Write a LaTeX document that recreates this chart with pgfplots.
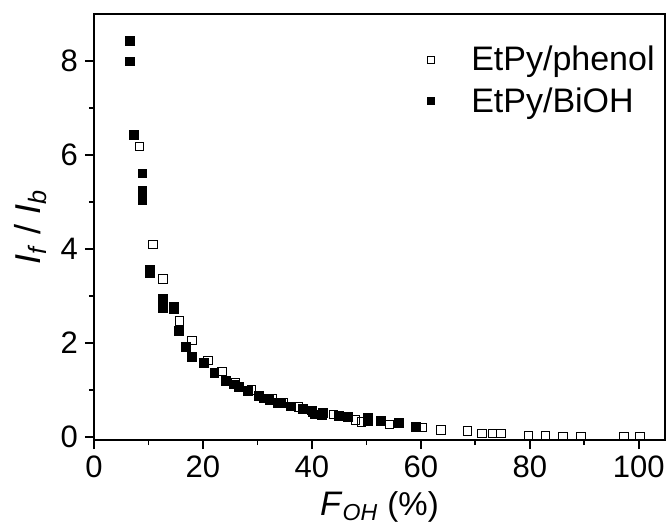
\documentclass[border=0pt]{standalone}
\usepackage{pgfplots}
\pgfplotsset{compat=1.18}
\usepackage{fontspec}
\setmainfont{Liberation Sans}
\pgfplotstableread{
x y
8.4 6.18
10.8 4.09
12.7 3.36
15.7 2.47
18.0 2.05
20.9 1.63
23.5 1.39
26.0 1.15
28.9 1.00
32.8 0.82
34.8 0.74
37.5 0.64
40.0 0.56
44.0 0.48
48.0 0.36
49.1 0.32
54.2 0.26
60.2 0.20
63.7 0.15
68.5 0.13
71.2 0.08
73.1 0.08
74.7 0.07
79.7 0.03
82.9 0.03
86.1 0.01
89.4 0.01
97.3 0.01
100.2 0.01
}\phenol
\pgfplotstableread{
x y
6.6 8.43
6.6 7.99
7.3 6.42
8.9 5.61
8.9 5.24
8.9 5.04
10.2 3.56
10.2 3.48
12.7 2.95
12.7 2.74
14.7 2.78
14.7 2.72
15.6 2.26
16.9 1.92
18.0 1.70
20.2 1.57
22.1 1.37
24.2 1.19
25.7 1.12
26.6 1.07
28.2 0.98
30.3 0.88
31.2 0.82
32.2 0.79
33.8 0.73
34.3 0.72
36.1 0.65
38.3 0.60
40.1 0.54
40.5 0.48
41.9 0.47
42.0 0.52
44.9 0.45
46.6 0.43
50.2 0.33
50.2 0.40
52.7 0.34
55.9 0.30
59.1 0.22
}\bioh
\begin{document}
\begin{tikzpicture}
\useasboundingbox (-47pt,-42.5pt) rectangle (287.5pt,220pt);
\begin{axis}[
  at={(0pt,0pt)}, anchor=south west,
  scale only axis, width=285.5pt, height=213pt,
  xmin=0, xmax=104.8, ymin=-0.064, ymax=9.0,
  xtick={0,20,...,100}, minor xtick={10,30,50,70,90},
  ytick={0,2,4,6,8}, minor ytick={1,3,5,7},
  tick align=outside, xtick pos=bottom, ytick pos=left,
  major tick length=4.5pt, minor tick length=2.5pt,
  every tick/.style={black, line width=0.9pt},
  axis line style={line width=0.9pt},
  tick label style={font=\fontsize{15.5}{18}\selectfont},
  /pgf/number format/assume math mode=true,
  xlabel={{\fontsize{17}{19}\selectfont\textit{F}}\textsubscript{\textit{OH}} (\%)},
  ylabel={\textit{I}\textsubscript{\textit{f}} / \textit{I}\textsubscript{\textit{b}}},
  xlabel style={font=\fontsize{16.5}{19}\selectfont},
  ylabel style={font=\fontsize{18}{20}\selectfont},
  legend style={at={(1.0,0.945)}, anchor=north east, draw=none, fill=none,
    font=\fontsize{17}{19}\selectfont, row sep=3pt},
  legend cell align=left,
  legend image code/.code={\draw[#1, mark size=1.7pt] plot coordinates {(0.3cm,0cm)}; \path (0cm,0cm) (0.93cm,0cm);},
]
\addplot[only marks, mark=square, mark size=2.1pt, mark options={black, line width=0.5pt}] table[x=x,y=y]{\phenol};
\addlegendentry{EtPy/phenol}
\addplot[only marks, mark=square*, mark size=2.2pt, mark options={black, fill=black}] table[x=x,y=y]{\bioh};
\addlegendentry{EtPy/BiOH}
\end{axis}
\end{tikzpicture}
\end{document}
